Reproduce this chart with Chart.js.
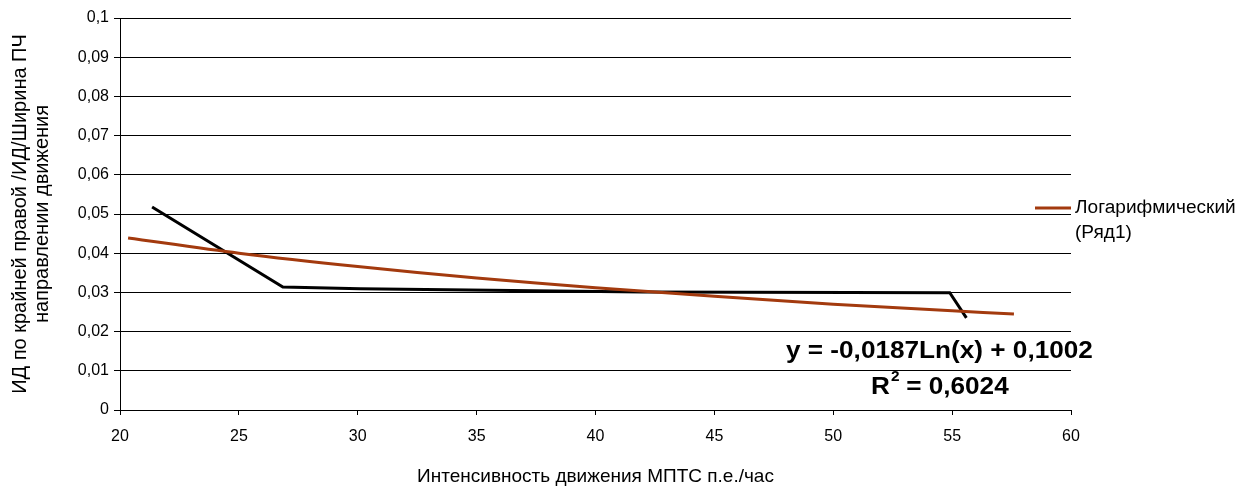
<!DOCTYPE html>
<html>
<head>
<meta charset="utf-8">
<script src="https://cdn.jsdelivr.net/npm/chart.js@4/dist/chart.umd.min.js"></script>
<style>
  html, body { margin: 0; padding: 0; background: #fff; }
  #wrap { width: 1241px; height: 488px; position: relative; }
</style>
</head>
<body>
<div id="wrap"><canvas id="grafico"></canvas></div>
<script>
// Ряд1 - values
var seriesX = [21.35, 26.85, 30.1, 42, 54.9, 55.6];
var seriesY = [0.0518, 0.0314, 0.0309, 0.0301, 0.0299, 0.0235];

// log trendline
var trendX = [20.34, 25, 30, 35, 40, 45, 50, 55, 57.6];
var trendY = [0.0439, 0.0400, 0.0366, 0.0337, 0.0312, 0.0290, 0.0270, 0.0253, 0.0245];

var yTickLabels = ['0', '0,01', '0,02', '0,03', '0,04', '0,05', '0,06', '0,07', '0,08', '0,09', '0,1'];
var xTickLabels = ['20', '25', '30', '35', '40', '45', '50', '55', '60'];

var legendText = ['Логарифмический', '(Ряд1)'];
var equationText = 'y = -0,0187Ln(x) + 0,1002';
var rSquaredText = '0,6024';

var fontFamily = 'Arial, "Liberation Sans", sans-serif';

function toPoints(xs, ys) {
    var pts = [];
    for (var i = 0; i < xs.length; i++) {
        pts.push({ x: xs[i], y: ys[i] });
    }
    return pts;
}

// text a bit wider than the font, like the original
function wideText(ctx, text, x, y, sx) {
    ctx.save();
    ctx.translate(x, y);
    ctx.scale(sx, 1);
    ctx.fillText(text, 0, 0);
    var w = ctx.measureText(text).width * sx;
    ctx.restore();
    return w;
}

// legend + equation text drawn after the chart
var extrasPlugin = {
    id: 'extras',
    afterDraw: function(chart) {
        var ctx = chart.ctx;
        ctx.save();

        // legend
        ctx.strokeStyle = '#A33A0E';
        ctx.lineWidth = 3;
        ctx.beginPath();
        ctx.moveTo(1035, 208);
        ctx.lineTo(1071, 208);
        ctx.stroke();
        ctx.fillStyle = '#000';
        ctx.font = '18px ' + fontFamily;
        ctx.textBaseline = 'middle';
        ctx.textAlign = 'left';
        wideText(ctx, legendText[0], 1075, 208, 1.06);
        wideText(ctx, legendText[1], 1075, 233, 1.06);

        // trendline equation
        ctx.font = 'bold 24px ' + fontFamily;
        wideText(ctx, equationText, 786, 351, 1.09);
        var rx = 871;
        var rw = wideText(ctx, 'R', rx, 387, 1.09);
        ctx.font = 'bold 14px ' + fontFamily;
        wideText(ctx, '2', rx + rw + 1, 377, 1.1);
        ctx.font = 'bold 24px ' + fontFamily;
        wideText(ctx, ' = ' + rSquaredText, rx + rw + 9, 387, 1.09);

        ctx.restore();
    }
};

var config = {
    type: 'line',
    data: {
        datasets: [{
            label: 'Логарифмический (Ряд1)',
            data: toPoints(trendX, trendY),
            borderColor: '#A33A0E',
            borderWidth: 3,
            pointRadius: 0,
            tension: 0.3,
            order: 0
        }, {
            label: 'Ряд1',
            data: toPoints(seriesX, seriesY),
            borderColor: '#000000',
            borderWidth: 3,
            pointRadius: 0,
            tension: 0,
            order: 1
        }]
    },
    options: {
        responsive: true,
        maintainAspectRatio: false,
        animation: false,
        layout: {
            padding: { left: 0, right: 170, top: 18, bottom: 0 }
        },
        plugins: {
            legend: { display: false },
            tooltip: { enabled: false }
        },
        scales: {
            x: {
                type: 'linear',
                min: 20,
                max: 60,
                ticks: {
                    stepSize: 5,
                    color: '#000',
                    font: { family: fontFamily, size: 16 },
                    padding: 12,
                    maxRotation: 0,
                    callback: function(value) {
                        return xTickLabels[(value - 20) / 5];
                    }
                },
                grid: {
                    drawOnChartArea: false,
                    color: '#000',
                    tickLength: 5
                },
                border: { color: '#000', width: 1 },
                title: {
                    display: true,
                    text: 'Интенсивность движения МПТС п.е./час',
                    color: '#000',
                    font: { family: fontFamily, size: 19 },
                    padding: { top: 24, bottom: 0 }
                },
                afterFit: function(scale) { scale.height = 78; }
            },
            y: {
                type: 'linear',
                min: 0,
                max: 0.1,
                ticks: {
                    stepSize: 0.01,
                    color: '#000',
                    font: { family: fontFamily, size: 16 },
                    padding: 5,
                    callback: function(value) {
                        return yTickLabels[Math.round(value * 100)];
                    }
                },
                grid: {
                    color: '#000',
                    lineWidth: 1,
                    tickLength: 6
                },
                border: { color: '#000', width: 1 },
                title: {
                    display: true,
                    text: ['ИД по крайней правой /ИД/Ширина ПЧ', 'направлении движения'],
                    color: '#000',
                    font: { family: fontFamily, size: 20, lineHeight: 1.1 },
                    padding: { top: 9, bottom: 0 }
                },
                afterFit: function(scale) { scale.width = 120; }
            }
        }
    },
    plugins: [extrasPlugin]
};

window.onload = function() {
    var ctx = document.getElementById('grafico').getContext('2d');
    window.myChart = new Chart(ctx, config);
};
</script>
</body>
</html>
